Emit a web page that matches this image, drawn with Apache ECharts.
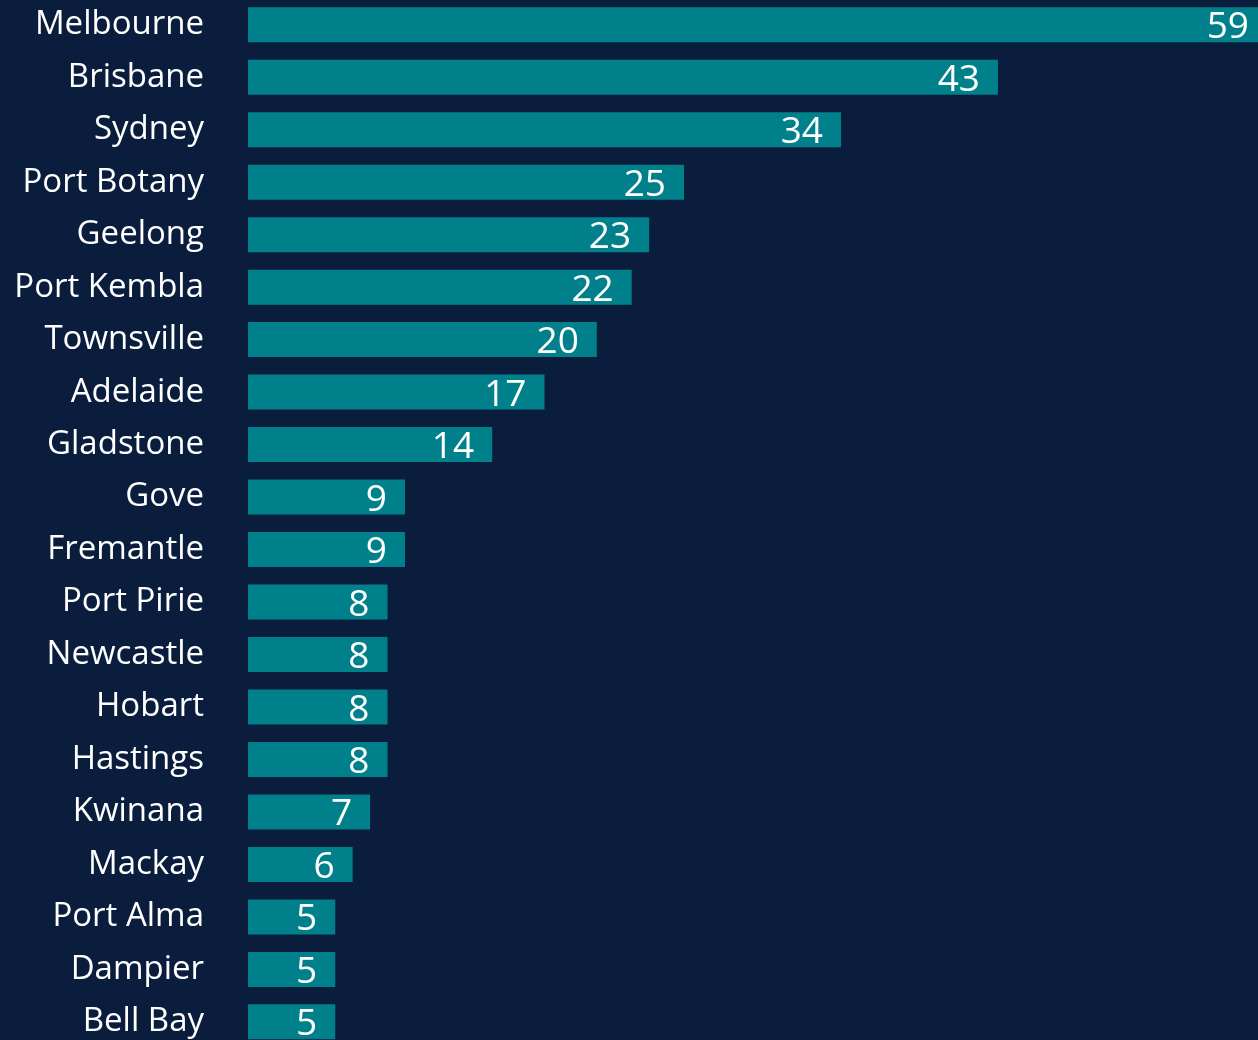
<!DOCTYPE html>
<html>
<head>
<meta charset="utf-8">
<style>
html,body{margin:0;padding:0;background:#0a1d3d;overflow:hidden;width:1258px;height:1040px;}
#c{position:absolute;left:0;top:-2px;width:1280px;height:1054px;}
</style>
<script src="https://cdn.jsdelivr.net/npm/echarts@6/dist/echarts.min.js"></script>
</head>
<body>
<div id="c"></div>
<script>
const categories = ["Melbourne","Brisbane","Sydney","Port Botany","Geelong","Port Kembla","Townsville","Adelaide","Gladstone","Gove","Fremantle","Port Pirie","Newcastle","Hobart","Hastings","Kwinana","Mackay","Port Alma","Dampier","Bell Bay"];
const values = [59,43,34,25,23,22,20,17,14,9,9,8,8,8,8,7,6,5,5,5];

const chart = echarts.init(document.getElementById('c'));
chart.setOption({
  backgroundColor: '#0a1d3d',
  animation: false,
  grid: { left: 248, width: 1029, top: 0.5, height: 1049.6 },
  xAxis: { type: 'value', min: 0, max: 59, show: false, splitLine: { show: false } },
  yAxis: {
    type: 'category', data: categories, inverse: true,
    axisLine: { show: false }, axisTick: { show: false },
    axisLabel: { color: '#ffffff', fontSize: 33, fontFamily: 'Open Sans', margin: 44, padding: [4, 0, 0, 0] }
  },
  series: [{
    type: 'bar',
    data: values.map((v, i) => i === 0 ? { value: v, label: { distance: 28 } } : v),
    barWidth: 35,
    itemStyle: { color: '#00808a' },
    label: {
      show: true, position: 'insideRight', distance: 18, offset: [0, 3],
      color: '#ffffff', fontSize: 37, fontFamily: 'Open Sans'
    }
  }]
});
</script>
</body>
</html>
